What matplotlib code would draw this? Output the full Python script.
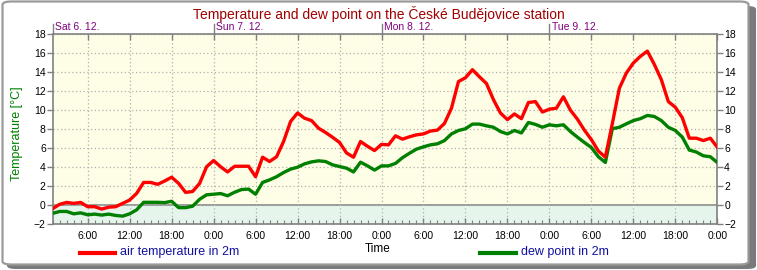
import matplotlib
matplotlib.use("Agg")
import matplotlib.pyplot as plt
from matplotlib.patches import FancyBboxPatch
from matplotlib.lines import Line2D
from matplotlib.ticker import MultipleLocator, FixedLocator
import matplotlib.transforms as mtransforms

plt.rcParams['font.family'] = ['Liberation Sans', 'DejaVu Sans']

# ---- data (hourly, hours counted from Sat 6.12. 0:00) ----
hours = list(range(1, 97))
air_temp = [-0.35, 0.1, 0.3, 0.2, 0.3, -0.15, -0.15, -0.4, -0.2, -0.15, 0.2, 0.55,
            1.25, 2.4, 2.4, 2.2, 2.55, 2.95, 2.3, 1.35, 1.45, 2.3, 4.05, 4.7,
            4.05, 3.5, 4.1, 4.1, 4.1, 3.0, 5.05, 4.6, 5.1, 6.7, 8.8, 9.7,
            9.15, 8.9, 8.1, 7.65, 7.15, 6.6, 5.5, 5.05, 6.7, 6.2, 5.75, 6.4,
            6.35, 7.3, 6.95, 7.2, 7.4, 7.5, 7.8, 7.9, 8.6, 10.2, 13.0, 13.4,
            14.25, 13.5, 12.8, 11.1, 9.7, 9.0, 9.6, 9.1, 10.8, 10.9, 9.8, 10.1,
            10.2, 11.4, 10.0, 9.05, 7.9, 6.9, 5.7, 5.05, 8.6, 12.3, 13.9, 14.95,
            15.65, 16.2, 14.8, 13.2, 10.9, 10.3, 9.2, 7.05, 7.05, 6.8, 7.05, 6.1]
dew_point = [-0.85, -0.65, -0.65, -0.9, -0.8, -1.0, -0.93, -1.03, -0.93, -1.07, -1.14, -0.9,
             -0.48, 0.31, 0.31, 0.31, 0.28, 0.42, -0.25, -0.25, -0.1, 0.63, 1.1, 1.16,
             1.23, 1.0, 1.37, 1.65, 1.7, 1.16, 2.4, 2.67, 3.0, 3.44, 3.8, 4.0,
             4.35, 4.56, 4.67, 4.6, 4.25, 4.07, 3.9, 3.5, 4.53, 4.14, 3.7, 4.14,
             4.14, 4.4, 5.0, 5.47, 5.9, 6.14, 6.35, 6.46, 6.8, 7.5, 7.86, 8.04,
             8.53, 8.53, 8.35, 8.2, 7.75, 7.5, 7.86, 7.6, 8.7, 8.5, 8.2, 8.46,
             8.35, 8.46, 7.75, 7.16, 6.6, 6.07, 5.1, 4.5, 8.05, 8.2, 8.56, 8.9,
             9.1, 9.44, 9.33, 8.9, 8.2, 7.86, 7.16, 5.8, 5.6, 5.2, 5.1, 4.5]
day_labels = ["Sat 6. 12.", "Sun 7. 12.", "Mon 8. 12.", "Tue 9. 12."]
day_starts = [1, 24, 48, 72]
time_ticks = [6, 12, 18, 24, 30, 36, 42, 48, 54, 60, 66, 72, 78, 84, 90, 96]
time_labels = ["6:00", "12:00", "18:00", "0:00"] * 4
y_ticks = list(range(-2, 19, 2))

title = "Temperature and dew point on the České Budějovice station"

W, H = 757, 270
fig = plt.figure(figsize=(W / 100, H / 100), dpi=100)
fig.patch.set_facecolor('white')

def fx(x):
    return x / W

def fy(y):
    return 1 - y / H

# frame with shadow
shadow = FancyBboxPatch((fx(7), fy(269)), fx(749), fy(6) - fy(269),
                        boxstyle="round,pad=0,rounding_size=0.012",
                        transform=fig.transFigure, facecolor='#7a7a7a',
                        edgecolor='none', zorder=0)
fig.patches.append(shadow)
panel = FancyBboxPatch((fx(2.5), fy(264.5)), fx(746), fy(1.5) - fy(264.5),
                       boxstyle="round,pad=0,rounding_size=0.012",
                       transform=fig.transFigure, facecolor='white',
                       edgecolor='#9a9a9a', linewidth=1.6, zorder=0.5)
fig.patches.append(panel)

ax = fig.add_axes([fx(52.7), fy(224.3), fx(717.3) - fx(52.7), fy(34) - fy(224.3)])
ax.set_zorder(2)
ax.set_facecolor('#fefee6')
ax.set_xlim(hours[0], hours[-1])
ax.set_ylim(-2, 18)
ax.axhspan(-2, 0, color='#e6f5ec', zorder=0, linewidth=0)

ax.yaxis.set_major_locator(FixedLocator(y_ticks))
ax.xaxis.set_major_locator(FixedLocator(time_ticks))
ax.set_xticklabels(time_labels)
ax.xaxis.set_minor_locator(MultipleLocator(1))
ax.grid(True, which='major', color='#b0b0b0', linestyle=(0, (1, 2)), linewidth=0.9)
ax.axhline(0, color='#808080', linewidth=1.1, zorder=1.5)

for s in ax.spines.values():
    s.set_color('#808080')
    s.set_linewidth(1.2)

ax.tick_params(axis='y', which='major', direction='out', length=4, width=1,
               color='#808080', labelsize=7.5, pad=1, left=True, right=True,
               labelleft=True, labelright=True)
ax.tick_params(axis='x', which='major', direction='in', length=4, width=1,
               color='#808080', labelsize=7.5, pad=5, top=True, bottom=True)
ax.tick_params(axis='x', which='minor', direction='in', length=3, width=0.8,
               color='#808080', top=False, bottom=True)

ax.plot(hours, dew_point, color='#008000', linewidth=2.4, zorder=3,
        solid_joinstyle='round')
ax.plot(hours, air_temp, color='#ff0000', linewidth=2.4, zorder=4,
        solid_joinstyle='round')

# day separators and labels above the plot
trans = mtransforms.blended_transform_factory(ax.transData, ax.transAxes)
text_off = mtransforms.offset_copy(trans, fig=fig, x=2.5, y=1.5, units='dots')
for h, lab in zip(day_starts, day_labels):
    ax.plot([h, h], [1.0, 1.0 + 10 / 190], color='#808080', linewidth=1,
            transform=trans, clip_on=False, zorder=5)
    ax.text(h, 1.0, lab, transform=text_off, ha='left', va='bottom',
            fontsize=7.5, color='#800080', clip_on=False)

# title
fig.text(fx(379), fy(14.5), title, ha='center', va='center', fontsize=10,
         color='#a00000')

# y label
fig.text(fx(17.5), fy(134), "Temperature [°C]", rotation=90, ha='center',
         va='center', fontsize=9, color='#008000')

# legend
fig.lines.append(Line2D([fx(80), fx(115)], [fy(253), fy(253)],
                        transform=fig.transFigure, color='#ff0000', linewidth=3))
fig.text(fx(120), fy(252.5), "air temperature in 2m", ha='left', va='center',
         fontsize=9, color='#1010a0')
fig.text(fx(378), fy(249.5), "Time", ha='center', va='center', fontsize=8.5,
         color='black')
fig.lines.append(Line2D([fx(480), fx(516)], [fy(253), fy(253)],
                        transform=fig.transFigure, color='#008000', linewidth=3))
fig.text(fx(521), fy(252.5), "dew point in 2m", ha='left', va='center',
         fontsize=9, color='#1010a0')

fig.savefig("out.png", dpi=100, facecolor='white')
